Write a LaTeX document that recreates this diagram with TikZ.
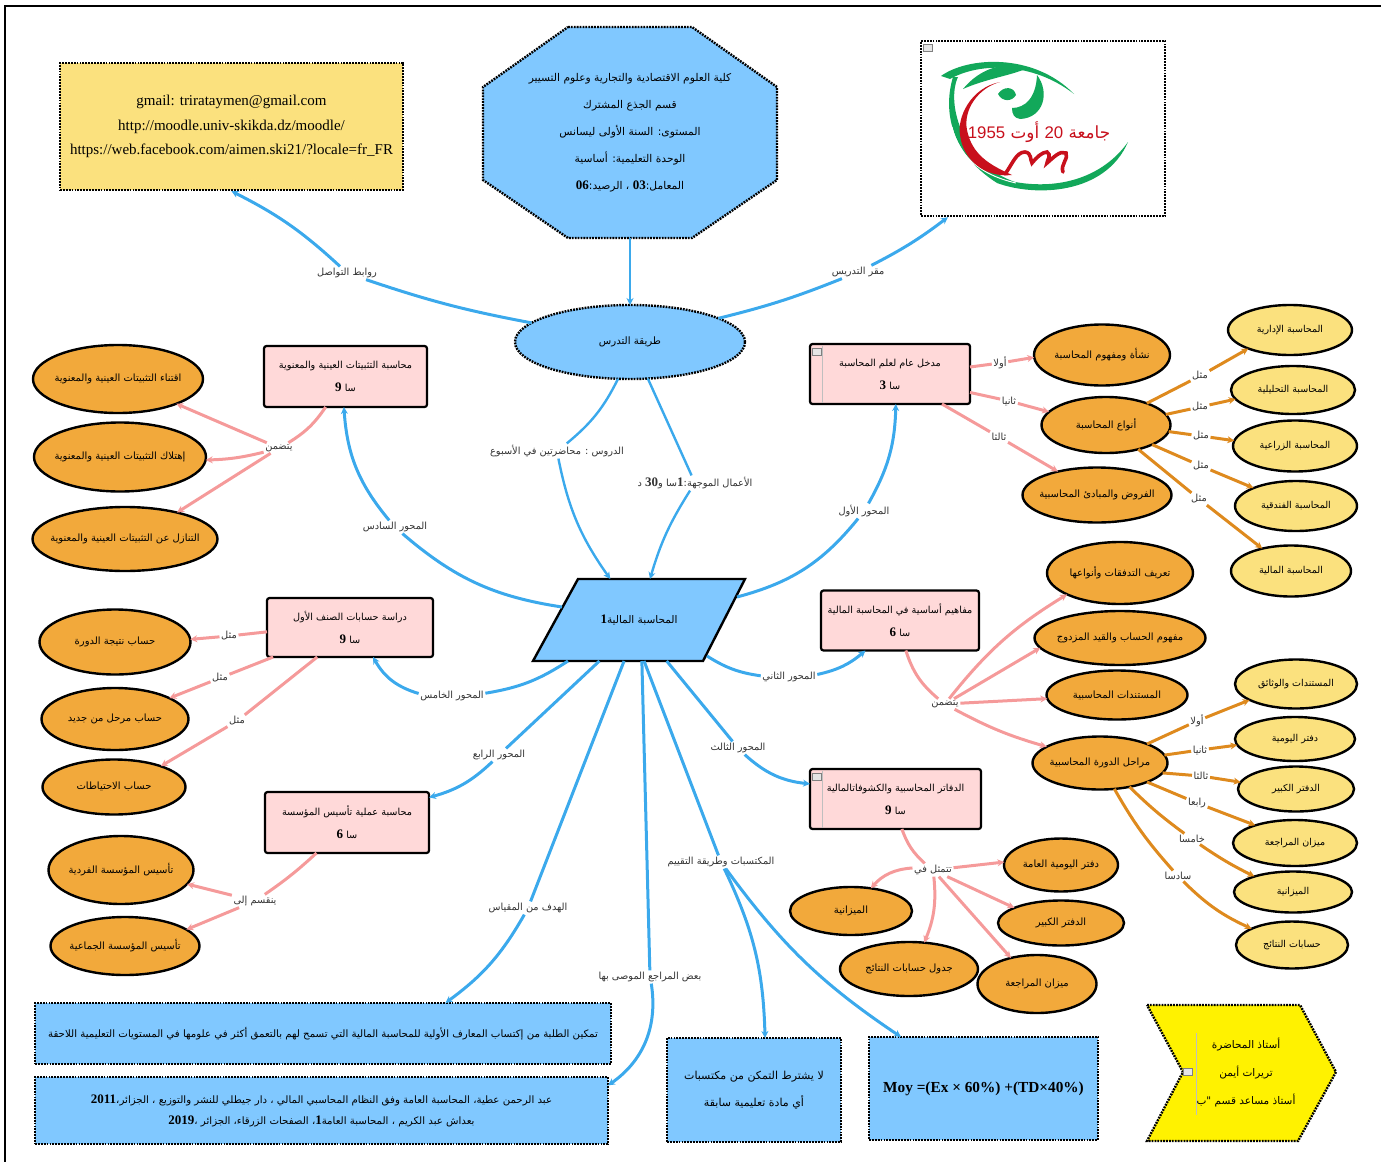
\documentclass[tikz,border=0pt]{standalone}
\usepackage{fontspec}
\setmainfont{Liberation Serif}
\newfontfamily\arabicfont[Script=Arabic]{DejaVu Sans}
\TeXXeTstate=1
\usetikzlibrary{arrows.meta}
\usetikzlibrary{shapes.geometric}
\definecolor{mblue}{HTML}{80C8FF}
\definecolor{lineblue}{HTML}{3BA9EC}
\definecolor{mpink}{HTML}{FFD9D9}
\definecolor{linepink}{HTML}{F59A9A}
\definecolor{morange}{HTML}{F2A93B}
\definecolor{lineorange}{HTML}{DE8A1E}
\definecolor{mcream}{HTML}{FBE17E}
\definecolor{lblgray}{HTML}{333333}
\definecolor{logogreen}{HTML}{12A85A}
\definecolor{logored}{HTML}{C8101C}
\newcommand{\artxt}[1]{{\arabicfont\beginR #1\endR}}
\newcommand{\artnum}[1]{\beginL{\rmfamily\fontsize{13pt}{13pt}\selectfont\bfseries #1}\endL}
\tikzset{
    dotborder/.style={draw=black, line width=2.4pt, dash pattern=on 1.8pt off 1.1pt},
    bluebox/.style={dotborder, fill=mblue, font=\fontsize{10.2pt}{12pt}\selectfont, align=center, inner sep=0pt, outer sep=0pt},
    hourbox/.style={draw=black, line width=2.2pt, rounded corners=2.5pt, fill=mpink, font=\fontsize{9.7pt}{12pt}\selectfont, align=center, inner sep=0pt, outer sep=0pt},
    orangeell/.style={ellipse, draw=black, line width=2.4pt, fill=morange, font=\fontsize{10pt}{12pt}\selectfont, inner xsep=-20pt, inner ysep=0pt, outer sep=0pt},
    creamell/.style={orangeell, fill=mcream, font=\fontsize{9.5pt}{12pt}\selectfont},
    lbl/.style={text=lblgray, font=\fontsize{9.8pt}{10pt}\selectfont, inner sep=1.5pt},
    noteicon/.style={draw=gray, fill=black!10, line width=.5pt, minimum width=9pt, minimum height=7pt, inner sep=0pt},
    blueline/.style={draw=lineblue, line width=3pt, -{Stealth[length=7pt,width=7pt]}},
    bluepart/.style={draw=lineblue, line width=3pt},
    pinkline/.style={draw=linepink, line width=3pt, -{Stealth[length=7pt,width=7pt]}},
    pinkpart/.style={draw=linepink, line width=3pt},
    orangeline/.style={draw=lineorange, line width=3pt, -{Stealth[length=7pt,width=7pt]}},
    orangepart/.style={draw=lineorange, line width=3pt}
}
\begin{document}
\begin{tikzpicture}[x=1pt,y=-1pt]
            \useasboundingbox (0,0) rectangle (1381,1162);
            \draw[line width=2.4pt] (1381,6) -- (5,6) -- (5,1162);

            \draw[dotborder, fill=mblue] (568,27) -- (692,27) -- (777,87) -- (777,180) -- (692,238) -- (568,238) -- (483,180) -- (483,87) -- cycle;
            \draw (630,132.5) node[minimum width=294pt, minimum height=211pt, inner sep=0pt, outer sep=0pt, align=center, font=\fontsize{10.7pt}{27pt}\selectfont] (college) {\artxt{كلية العلوم الاقتصادية والتجارية وعلوم التسيير}\\\artxt{قسم الجذع المشترك}\\\artxt{المستوى: السنة الأولى ليسانس}\\\artxt{الوحدة التعليمية: أساسية}\\\artxt{المعامل:\artnum{03} ، الرصيد:\artnum{06}}};
            \draw (231.5,126.5) node[dotborder, fill=mcream, minimum width=343pt, minimum height=127pt, inner sep=0pt, align=center, font=\fontsize{15pt}{24.5pt}\selectfont] (contacts) {gmail: trirataymen@gmail.com\\http://moodle.univ-skikda.dz/moodle/\\https://web.facebook.com/aimen.ski21/?locale=fr\_FR};
            \draw (1043,128.5) node[dotborder, fill=white, minimum width=244pt, minimum height=175pt, inner sep=0pt] (logo) {};
            \draw (630,342) node[ellipse, bluebox, minimum width=230pt, minimum height=74pt] (method) {\artxt{طريقة التدرس}};
            \draw[line width=2.4pt, fill=mblue] (578,579) -- (745,579) -- (703,661) -- (533,661) -- cycle;
            \draw (639,620) node[minimum width=212pt, minimum height=82pt, inner sep=0pt, outer sep=0pt, font=\fontsize{10.5pt}{12pt}\selectfont] (main) {\artxt{المحاسبة المالية\artnum{1}}};
            \coordinate (mainNE) at (737,597);
            \coordinate (mainW) at (562,607);
            \coordinate (mainSE) at (707,656);

            \draw (890,374) node[hourbox, minimum width=160pt, minimum height=60pt] (intro) {\artxt{مدخل عام لعلم المحاسبة}\\[11pt]\artxt{سا \artnum{3}}};
            \draw (345.5,376.5) node[hourbox, minimum width=163pt, minimum height=61pt] (fixed) {\artxt{محاسبة التثبيتات العينية والمعنوية}\\[11pt]\artxt{سا \artnum{9}}};
            \draw (350,627.5) node[hourbox, minimum width=166pt, minimum height=59pt] (class) {\artxt{دراسة حسابات الصنف الأول}\\[11pt]\artxt{سا \artnum{9}}};
            \draw (900,620.5) node[hourbox, minimum width=158pt, minimum height=60pt] (basics) {\artxt{مفاهيم أساسية في المحاسبة المالية}\\[11pt]\artxt{سا \artnum{6}}};
            \draw (895.5,799) node[hourbox, minimum width=171pt, minimum height=60pt] (books) {\artxt{الدفاتر المحاسبية والكشوفاتالمالية}\\[11pt]\artxt{سا \artnum{9}}};
            \draw (347,822.5) node[hourbox, minimum width=164pt, minimum height=61pt] (setup) {\artxt{محاسبة عملية تأسيس المؤسسة}\\[11pt]\artxt{سا \artnum{6}}};

            \draw (118,379) node[orangeell, minimum width=170pt, minimum height=68pt] (acquire) {\artxt{اقتناء التثبيتات العينية والمعنوية}};
            \draw (120,457) node[orangeell, minimum width=172pt, minimum height=69pt] (amort) {\artxt{إهتلاك التثبيتات العينية والمعنوية}};
            \draw (125,539) node[orangeell, minimum width=185pt, minimum height=64pt] (dispose) {\artxt{التنازل عن التثبيتات العينية والمعنوية}};
            \draw (115,642) node[orangeell, minimum width=151pt, minimum height=65pt] (result) {\artxt{حساب نتيجة الدورة}};
            \draw (115,719) node[orangeell, minimum width=147pt, minimum height=62pt] (carried) {\artxt{حساب مرحل من جديد}};
            \draw (114,787) node[orangeell, minimum width=143pt, minimum height=55pt] (reserve) {\artxt{حساب الاحتياطات}};
            \draw (121,870) node[orangeell, minimum width=145pt, minimum height=68pt] (sole) {\artxt{تأسيس المؤسسة الفردية}};
            \draw (125,946) node[orangeell, minimum width=149pt, minimum height=58pt] (company) {\artxt{تأسيس المؤسسة الجماعية}};

            \draw (1102,355) node[orangeell, minimum width=136pt, minimum height=61pt] (origin) {\artxt{نشأة ومفهوم المحاسبة}};
            \draw (1106,425) node[orangeell, minimum width=129pt, minimum height=56pt] (kinds) {\artxt{أنواع المحاسبة}};
            \draw (1097,495) node[orangeell, minimum width=149pt, minimum height=55pt] (assume) {\artxt{الفروض والمبادئ المحاسبية}};
            \draw (1120,573) node[orangeell, minimum width=146pt, minimum height=62pt] (flows) {\artxt{تعريف التدفقات وأنواعها}};
            \draw (1120,638) node[orangeell, minimum width=171pt, minimum height=54pt] (double) {\artxt{مفهوم الحساب والقيد المزدوج}};
            \draw (1117,695) node[orangeell, minimum width=141pt, minimum height=49pt] (vouchers) {\artxt{المستندات المحاسبية}};
            \draw (1100,763) node[orangeell, minimum width=135pt, minimum height=53pt] (cycle) {\artxt{مراحل الدورة المحاسبية}};

            \draw (1290,330) node[creamell, minimum width=124pt, minimum height=50pt] (mgmt) {\artxt{المحاسبة الإدارية}};
            \draw (1293,390) node[creamell, minimum width=124pt, minimum height=48pt] (analytic) {\artxt{المحاسبة التحليلية}};
            \draw (1295,446) node[creamell, minimum width=124pt, minimum height=51pt] (agri) {\artxt{المحاسبة الزراعية}};
            \draw (1296,506) node[creamell, minimum width=122pt, minimum height=50pt] (hotel) {\artxt{المحاسبة الفندقية}};
            \draw (1291,571) node[creamell, minimum width=120pt, minimum height=51pt] (finance) {\artxt{المحاسبة المالية}};
            \draw (1296,684) node[creamell, minimum width=122pt, minimum height=49pt] (docs) {\artxt{المستندات والوثائق}};
            \draw (1295,739) node[creamell, minimum width=120pt, minimum height=44pt] (journal) {\artxt{دفتر اليومية}};
            \draw (1296,789) node[creamell, minimum width=116pt, minimum height=45pt] (ledger) {\artxt{الدفتر الكبير}};
            \draw (1295,843) node[creamell, minimum width=124pt, minimum height=46pt] (trial) {\artxt{ميزان المراجعة}};
            \draw (1293,892) node[creamell, minimum width=118pt, minimum height=41pt] (balance) {\artxt{الميزانية}};
            \draw (1292,945) node[creamell, minimum width=112pt, minimum height=47pt] (income) {\artxt{حسابات النتائج}};

            \draw (1061,865) node[orangeell, minimum width=114pt, minimum height=53pt] (genjournal) {\artxt{دفتر اليومية العامة}};
            \draw (851,911) node[orangeell, minimum width=122pt, minimum height=48pt] (sheet) {\artxt{الميزانية}};
            \draw (1061,923) node[orangeell, minimum width=126pt, minimum height=45pt] (bigbook) {\artxt{الدفتر الكبير}};
            \draw (909,969) node[orangeell, minimum width=138pt, minimum height=54pt] (table) {\artxt{جدول حسابات النتائج}};
            \draw (1037,984) node[orangeell, minimum width=119pt, minimum height=58pt] (review) {\artxt{ميزان المراجعة}};

            \draw (323,1033.5) node[bluebox, minimum width=576pt, minimum height=61pt] (goal) {\artxt{تمكين الطلبة من إكتساب المعارف الأولية للمحاسبة المالية التي تسمح لهم بالتعمق أكثر في علومها في المستويات التعليمية اللاحقة}};
            \draw (321.5,1110.5) node[bluebox, minimum width=573pt, minimum height=67pt] (refs) {\artxt{عبد الرحمن عطية، المحاسبة العامة وفق النظام المحاسبي المالي ، دار جيطلي للنشر والتوزيع ، الجزائر،\artnum{2011}}\\[9pt]\artxt{بعداش عبد الكريم ، المحاسبة العامة\artnum{1}، الصفحات الزرقاء، الجزائر ،\artnum{2019}}};
            \draw (754,1090) node[bluebox, minimum width=174pt, minimum height=104pt, font=\fontsize{11pt}{12pt}\selectfont] (prereq) {\artxt{لا يشترط التمكن من مكتسبات}\\[12pt]\artxt{أي مادة تعليمية سابقة}};
            \draw (983.5,1088.5) node[bluebox, minimum width=229pt, minimum height=103pt, font=\fontsize{15.3pt}{20pt}\selectfont\bfseries] (grade) {Moy =(Ex × 60\%) +(TD×40\%)};
            \draw[dotborder, fill=yellow] (1147,1005) -- (1300,1005) -- (1336,1072) -- (1298,1141) -- (1147,1141) -- (1183,1072) -- cycle;
            \draw (1246,1073) node[align=center, inner sep=0pt, font=\fontsize{10.5pt}{28pt}\selectfont] (teacher) {\artxt{أستاذ المحاضرة}\\\artxt{تريرات أيمن}\\\artxt{أستاذ مساعد قسم "ب}};

            \draw[draw=gray!50, line width=.5pt] (822,346) -- (822,403);
            \draw[draw=gray!50, line width=.5pt] (822,771) -- (822,828);
            \draw[draw=gray!50, line width=.5pt] (1196,1033) -- (1196,1115);
            \draw (817,352) node[noteicon] (noteintro) {};
            \draw (817,777) node[noteicon] (notebooks) {};
            \draw (928,48) node[noteicon] (notelogo) {};
            \draw (1188,1072) node[noteicon] (noteteacher) {};

            \fill[logogreen] (941,76) .. controls (967,57) and (1033,52) .. (1074,94) .. controls (1033,62) and (980,62) .. (950,79) -- cycle;
            \fill[logogreen] (953,77) .. controls (943,110) and (950,153) .. (997,183) .. controls (1035,197) and (1105,195) .. (1128,142) .. controls (1103,177) and (1060,190) .. (1015,182) .. controls (965,165) and (945,105) .. (958,77) -- cycle;
            \draw[white, line width=1pt] (952,127) .. controls (958,155) and (980,175) .. (1016,183);
            \fill[logogreen] (963,89) .. controls (980,68) and (1007,60) .. (1023,70) .. controls (1007,76) and (983,80) .. (963,89) -- cycle;
            \fill[logogreen] (1037,75) .. controls (1050,92) and (1044,118) .. (1020,119) .. controls (1014,118) and (1012,114) .. (1012,108) .. controls (1025,108) and (1036,98) .. (1037,75) -- cycle;
            \fill[logogreen] (998,94) .. controls (1003,86) and (1014,86) .. (1016,95) .. controls (1012,102) and (1002,102) .. (998,94) -- cycle;
            \fill[logored] (1000,82) .. controls (970,88) and (957,118) .. (960,135) .. controls (963,160) and (985,178) .. (1012,175) .. controls (990,165) and (972,155) .. (967,130) .. controls (963,110) and (978,88) .. (1000,82) -- cycle;
            \draw[logored, line width=3.6pt, line cap=round] (1005,174) .. controls (1012,165) and (1016,152) .. (1025,152) .. controls (1032,153) and (1030,160) .. (1032,163) .. controls (1036,158) and (1042,152) .. (1047,152) .. controls (1052,155) and (1047,160) .. (1047,163) .. controls (1053,158) and (1060,150) .. (1066,153) .. controls (1069,158) and (1060,165) .. (1063,172);
            \draw (1039,132) node[text=logored, inner sep=0pt, font=\fontsize{16.8pt}{18pt}\selectfont] (logotext) {\artxt{جامعة \beginL{\fontspec{Liberation Sans}20}\endL{} أوت \beginL{\fontspec{Liberation Sans}1955}\endL}};

            \draw (347,273) node[lbl] (linklinks) {\artxt{روابط التواصل}};
            \draw (858,272) node[lbl] (linkplace) {\artxt{مقر التدريس}};
            \draw (557,451) node[lbl] (linklect) {\artxt{الدروس : محاضرتين في الأسبوع}};
            \draw (695,483) node[lbl] (linktd) {\artxt{الأعمال الموجهة:\artnum{1}سا و\artnum{30} د}};
            \draw (864,511) node[lbl] (axis1) {\artxt{المحور الأول}};
            \draw (789,677) node[lbl] (axis2) {\artxt{المحور الثاني}};
            \draw (738,748) node[lbl] (axis3) {\artxt{المحور الثالث}};
            \draw (499,755) node[lbl] (axis4) {\artxt{المحور الرابع}};
            \draw (452,696) node[lbl] (axis5) {\artxt{المحور الخامس}};
            \draw (395,527) node[lbl] (axis6) {\artxt{المحور السادس}};
            \draw (721,862) node[lbl] (linkeval) {\artxt{المكتسبات وطريقة التقييم}};
            \draw (528,908) node[lbl] (linkgoal) {\artxt{الهدف من المقياس}};
            \draw (650,977) node[lbl] (linkrefs) {\artxt{بعض المراجع الموصى بها}};

            \draw (279,448) node[lbl] (hubfixed) {\artxt{يتضمن}};
            \draw (945,704) node[lbl] (hubbasics) {\artxt{يتضمن}};
            \draw (933,870) node[lbl] (hubbooks) {\artxt{تتمثل في}};
            \draw (255,901) node[lbl] (hubsetup) {\artxt{ينقسم إلى}};
            \draw (229,636) node[lbl] (ex1) {\artxt{مثل}};
            \draw (220,678) node[lbl] (ex2) {\artxt{مثل}};
            \draw (237,721) node[lbl] (ex3) {\artxt{مثل}};
            \draw (1000,363) node[lbl] (ord1) {\artxt{أولا}};
            \draw (1009,401) node[lbl] (ord2) {\artxt{ثانيا}};
            \draw (999,437) node[lbl] (ord3) {\artxt{ثالثا}};
            \draw (1200,376) node[lbl] (kind1) {\artxt{مثل}};
            \draw (1200,407) node[lbl] (kind2) {\artxt{مثل}};
            \draw (1201,436) node[lbl] (kind3) {\artxt{مثل}};
            \draw (1201,466) node[lbl] (kind4) {\artxt{مثل}};
            \draw (1199,499) node[lbl] (kind5) {\artxt{مثل}};
            \draw (1197,721) node[lbl] (step1) {\artxt{أولا}};
            \draw (1200,750) node[lbl] (step2) {\artxt{ثانيا}};
            \draw (1201,776) node[lbl] (step3) {\artxt{ثالثا}};
            \draw (1197,803) node[lbl] (step4) {\artxt{رابعا}};
            \draw (1192,839) node[lbl] (step5) {\artxt{خامسا}};
            \draw (1178,876) node[lbl] (step6) {\artxt{سادسا}};

            \draw[blueline, line width=2.4pt] (college.south) -- (method.north);
            \draw[bluepart] (method.169) to[bend left=4] (linklinks);
            \draw[blueline] (linklinks) to[bend right=8] (contacts.south);
            \draw[bluepart] (method.15) to[bend right=4] (linkplace);
            \draw[blueline] (linkplace) to[bend right=5] (logo.223);
            \draw[bluepart, line width=2.4pt] (method.252) to[bend left=12] (linklect);
            \draw[blueline, line width=2.4pt] (linklect) to[bend right=12] (main.125);
            \draw[bluepart, line width=2.4pt] (method.296) -- (linktd);
            \draw[blueline, line width=2.4pt] (linktd) to[bend right=8] (main.75);
            \draw[bluepart] (mainNE) to[bend right=18] (axis1);
            \draw[blueline] (axis1) to[bend right=14] (intro.281);
            \draw[bluepart] (mainW) to[bend left=16] (axis6);
            \draw[blueline] (axis6) to[bend left=18] (fixed.267);
            \draw[bluepart] (mainSE) to[bend right=12] (axis2);
            \draw[blueline] (axis2) to[bend right=14] (basics.221);
            \draw[bluepart] (main.304) -- (axis3);
            \draw[blueline] (axis3) to[bend right=18] (books.170);
            \draw[bluepart] (main.226) -- (axis4);
            \draw[blueline] (axis4) to[bend left=14] (setup.17);
            \draw[bluepart] (main.210) to[bend left=12] (axis5);
            \draw[blueline] (axis5) to[bend left=22] (class.308);
            \draw[bluepart] (main.250) -- (linkgoal);
            \draw[blueline] (linkgoal) to[bend left=12] (goal.14);
            \draw[bluepart] (main.274) -- (linkrefs);
            \draw[blueline] (linkrefs) to[bend left=32] (refs.5);
            \draw[bluepart] (main.277) -- (linkeval);
            \draw[blueline] (linkeval) to[bend left=12] (prereq.78);
            \draw[blueline] (linkeval) to[bend right=10] (grade.148);

            \draw[pinkpart] (fixed.237) to[bend left=12] (hubfixed);
            \draw[pinkline] (hubfixed) -- (acquire.337);
            \draw[pinkline] (hubfixed) to[bend left=6] (amort.358);
            \draw[pinkline] (hubfixed) -- (dispose.27);
            \draw[pinkpart] (class.183) -- (ex1);
            \draw[pinkline] (ex1) -- (result.2);
            \draw[pinkpart] (class.201) -- (ex2);
            \draw[pinkline] (ex2) -- (carried.21);
            \draw[pinkpart] (class.222) -- (ex3);
            \draw[pinkline] (ex3) -- (reserve.24);
            \draw[pinkpart] (setup.225) to[bend left=4] (hubsetup);
            \draw[pinkline] (hubsetup) -- (sole.348);
            \draw[pinkline] (hubsetup) -- (company.15);
            \draw[pinkpart] (intro.5) -- (ord1);
            \draw[pinkline] (ord1) -- (origin.182);
            \draw[pinkpart] (intro.347) -- (ord2);
            \draw[pinkline] (ord2) -- (kinds.167);
            \draw[pinkpart] (intro.330) -- (ord3);
            \draw[pinkline] (ord3) -- (assume.149);
            \draw[pinkpart] (basics.281) to[bend right=16] (hubbasics);
            \draw[pinkline] (hubbasics) to[bend left=10] (flows.202);
            \draw[pinkline] (hubbasics) -- (double.187);
            \draw[pinkline] (hubbasics) -- (vouchers.183);
            \draw[pinkline] (hubbasics) to[bend right=6] (cycle.163);
            \draw[pinkpart] (books.282) to[bend right=14] (hubbooks);
            \draw[pinkline] (hubbooks) -- (genjournal.177);
            \draw[pinkline] (hubbooks) to[bend right=22] (sheet.49);
            \draw[pinkline] (hubbooks) -- (bigbook.162);
            \draw[pinkline] (hubbooks) to[bend left=14] (table.60);
            \draw[pinkline] (hubbooks) -- (review.135);

            \draw[orangepart] (kinds.28) -- (kind1);
            \draw[orangeline] (kind1) -- (mgmt.204);
            \draw[orangepart] (kinds.10) -- (kind2);
            \draw[orangeline] (kind2) -- (analytic.189);
            \draw[orangepart] (kinds.354) -- (kind3);
            \draw[orangeline] (kind3) -- (agri.175);
            \draw[orangepart] (kinds.337) -- (kind4);
            \draw[orangeline] (kind4) -- (hotel.157);
            \draw[orangepart] (kinds.323) -- (kind5);
            \draw[orangeline] (kind5) -- (finance.142);
            \draw[orangepart] (cycle.22) -- (step1);
            \draw[orangeline] (step1) -- (docs.199);
            \draw[orangepart] (cycle.7) -- (step2);
            \draw[orangeline] (step2) -- (journal.186);
            \draw[orangepart] (cycle.351) -- (step3);
            \draw[orangeline] (step3) -- (ledger.173);
            \draw[orangepart] (cycle.338) -- (step4);
            \draw[orangeline] (step4) -- (trial.156);
            \draw[orangepart] (cycle.321) to[bend right=4] (step5);
            \draw[orangeline] (step5) to[bend right=4] (balance.158);
            \draw[orangepart] (cycle.299) to[bend right=6] (step6);
            \draw[orangeline] (step6) to[bend right=10] (income.158);
\end{tikzpicture}
\end{document}
